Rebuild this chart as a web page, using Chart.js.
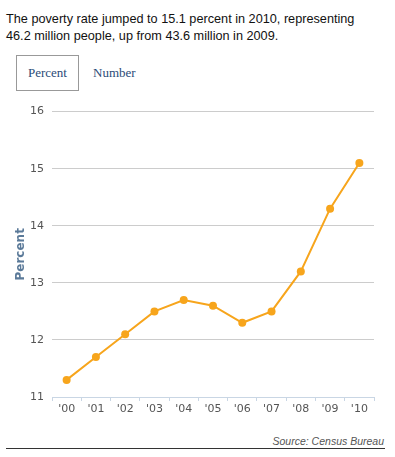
<!DOCTYPE html>
<html>
<head>
<meta charset="utf-8">
<script src="https://cdn.jsdelivr.net/npm/chart.js@4"></script>
<style>
  body { margin: 0; background: #fff; width: 395px; height: 457px; position: relative; overflow: hidden; }
  #judul { position: absolute; left: 6px; top: 11px; font: 12.7px "Liberation Sans", Arial, sans-serif; line-height: 17px; color: #111; }
  .tab { position: absolute; top: 55px; height: 36px; font: 13px "Liberation Serif", Georgia, serif; line-height: 36px; color: #2b4b78; }
  #tabPercent { left: 16px; width: 63px; border: 1px solid #999; text-align: center; box-sizing: border-box; line-height: 34px; }
  #tabNumber { left: 93px; }
  #wadah { position: absolute; left: 0; top: 97px; width: 395px; height: 323px; }
  #sumber { position: absolute; right: 11px; top: 435px; font: italic 10.5px "Liberation Sans", Arial, sans-serif; color: #555; }
  #garis { position: absolute; left: 6px; top: 448px; width: 379px; height: 0; border-top: 1px solid #333; }
</style>
</head>
<body>
<div id="judul">The poverty rate jumped to 15.1 percent in 2010, representing<br>46.2 million people, up from 43.6 million in 2009.</div>
<div class="tab" id="tabPercent">Percent</div>
<div class="tab" id="tabNumber">Number</div>
<div id="wadah"><canvas id="myChart"></canvas></div>
<div id="sumber">Source: Census Bureau</div>
<div id="garis"></div>

<script>
// data tahun dan persen kemiskinan
const years = ["'00", "'01", "'02", "'03", "'04", "'05", "'06", "'07", "'08", "'09", "'10"];
const povertyRate = [11.3, 11.7, 12.1, 12.5, 12.7, 12.6, 12.3, 12.5, 13.2, 14.3, 15.1];
const yTicks = [11, 12, 13, 14, 15, 16];

const ctx = document.getElementById("myChart");

new Chart(ctx, {
  type: "line",
  data: {
    labels: years,
    datasets: [
      {
        label: "Percent",
        data: povertyRate,
        borderColor: "#f7a51c",
        backgroundColor: "#f7a51c",
        borderWidth: 2,
        pointRadius: 4,
        pointBorderWidth: 0,
        tension: 0,
      },
    ],
  },
  options: {
    responsive: true,
    maintainAspectRatio: false,
    animation: false,
    layout: { padding: { top: 0, right: 21, left: 0, bottom: 0 } },
    plugins: {
      legend: { display: false },
      tooltip: { enabled: false },
    },
    scales: {
      x: {
        offset: true,
        grid: {
          display: true,
          drawOnChartArea: false,
          offset: true,
          color: "#c9d6e4",
          tickLength: 4,
        },
        border: { color: "#c9d6e4", width: 1 },
        ticks: {
          color: "#555",
          font: { family: "DejaVu Sans", size: 11 },
          padding: 2,
          maxRotation: 0,
        },
        afterFit: (scale) => {
          scale.height = 23;
        },
      },
      y: {
        min: 11,
        max: 16,
        afterBuildTicks: (scale) => {
          scale.ticks = yTicks.map((v) => ({ value: v }));
        },
        grid: {
          color: "#cccccc",
          lineWidth: 1,
          drawTicks: false,
        },
        border: { display: false },
        ticks: {
          color: "#555",
          font: { family: "DejaVu Sans", size: 11 },
          padding: 8,
        },
        title: {
          display: true,
          text: "Percent",
          color: "#5b7a99",
          font: { family: "DejaVu Sans", size: 12, weight: "bold" },
          padding: { top: 14, bottom: 0 },
        },
        afterFit: (scale) => {
          scale.width = 52;
        },
      },
    },
  },
});
</script>
</body>
</html>
